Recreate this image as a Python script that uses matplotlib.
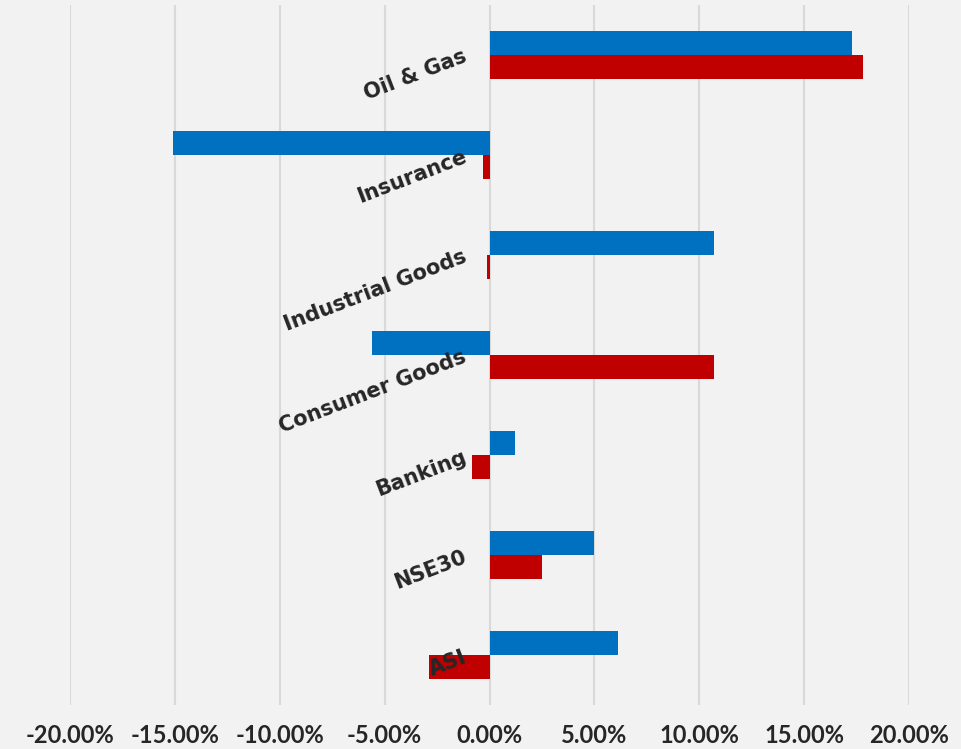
import matplotlib.pyplot as plt
import matplotlib.transforms as mtransforms
from matplotlib.ticker import FuncFormatter
import numpy as np

# sectors, bottom to top
categories = ["ASI", "NSE30", "Banking", "Consumer Goods", "Industrial Goods", "Insurance", "Oil & Gas"]
blue_vals = [6.1, 5.0, 1.2, -5.6, 10.7, -15.1, 17.3]
red_vals = [-2.9, 2.5, -0.86, 10.7, -0.1, -0.3, 17.8]
x_ticks = [-20, -15, -10, -5, 0, 5, 10, 15, 20]

BLUE = "#0070C0"
RED = "#C00000"
BG = "#F2F2F2"
GRID = "#D9D9D9"

plt.rcParams["font.family"] = ["Lato", "DejaVu Sans"]

fig = plt.figure(figsize=(9.62, 7.49), dpi=100, facecolor=BG)
ax = fig.add_axes([0.0728, 0.0587, 0.8722, 0.9346], facecolor=BG)

y = np.arange(len(categories))
h = 0.24
ax.barh(y + h / 2, blue_vals, height=h, color=BLUE, zorder=3)
ax.barh(y - h / 2, red_vals, height=h, color=RED, zorder=3)

ax.set_xlim(-20, 20)
ax.set_ylim(-0.5, len(categories) - 0.5)
ax.set_xticks(x_ticks)
ax.xaxis.set_major_formatter(FuncFormatter(lambda v, _: f"{v:.2f}%"))
ax.tick_params(axis="x", length=0, pad=14, labelsize=17)
for lab in ax.get_xticklabels():
    lab.set_fontweight("bold")
    lab.set_color("#262626")
ax.set_yticks([])
ax.grid(axis="x", color=GRID, linewidth=1.5, zorder=0)
for s in ax.spines.values():
    s.set_visible(False)

# category labels sit at the zero line, rotated like the original
offset = mtransforms.ScaledTranslation(-24 / 100, -1 / 100, fig.dpi_scale_trans)
for yi, name in zip(y, categories):
    ax.text(0, yi, name, rotation=21, rotation_mode="anchor", ha="right", va="center",
            fontsize=15, fontweight="bold", color="#262626", family="DejaVu Sans",
            transform=ax.transData + offset, zorder=4)

fig.savefig("out.png", dpi=100, facecolor=BG)
